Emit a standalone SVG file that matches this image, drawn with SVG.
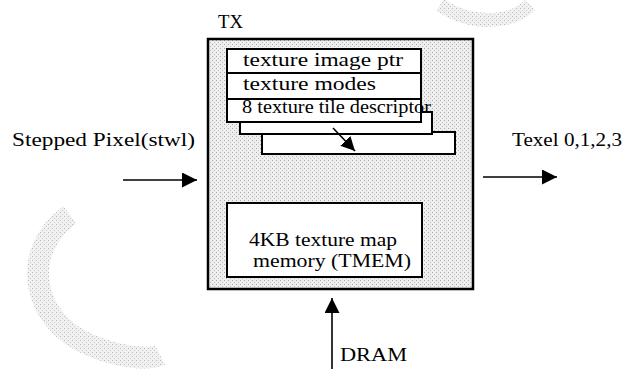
<svg xmlns="http://www.w3.org/2000/svg" width="624" height="369" viewBox="0 0 624 369">
<style>
.t{font-family:"Liberation Serif","DejaVu Serif",serif;font-size:18.5px;fill:#000}
.b{fill:#fff;stroke:#000;stroke-width:2}
.c{stroke:#000;stroke-width:1.6;fill:none}
</style>
<defs>
<pattern id="dots" width="4" height="4" patternUnits="userSpaceOnUse">
<rect width="4" height="4" fill="#eeeeee"/>
<rect x="0" y="0" width="1" height="1" fill="#a8a8a8"/>
<rect x="2" y="2" width="1" height="1" fill="#bcbcbc"/>
</pattern>
<marker id="ah" viewBox="0 0 10 10" refX="10" refY="5" markerWidth="14" markerHeight="14" markerUnits="userSpaceOnUse" orient="auto">
<path d="M0,0L10,5L0,10z" fill="#000"/>
</marker>
<marker id="ahb" viewBox="0 0 10 10" refX="10" refY="5" markerWidth="15" markerHeight="15" markerUnits="userSpaceOnUse" orient="auto">
<path d="M0,0L10,5L0,10z" fill="#000"/>
</marker>
</defs>
<rect width="624" height="369" fill="#fff"/>
<g id="watermark" fill="none" stroke="url(#dots)" opacity="0.8">
<path d="M70,215 C20,250 30,320 90,345 C120,358 150,360 160,355" stroke-width="22"/>
<path d="M440,5 C470,25 510,25 530,5" stroke-width="14"/>
</g>
<g id="tx">
<rect x="208" y="39" width="265" height="250" fill="url(#dots)" stroke="#000" stroke-width="2.5"/>
<text class="t" x="218" y="28" font-size="20" textLength="25" lengthAdjust="spacingAndGlyphs">TX</text>
</g>
<g id="tile-stack">
<rect class="b" x="262" y="132" width="193" height="22"/>
<rect class="b" x="240" y="112" width="192" height="22"/>
</g>
<g id="registers">
<rect class="b" x="227" y="49" width="194" height="24"/>
<rect class="b" x="227" y="73" width="194" height="26"/>
<rect class="b" x="227" y="99" width="194" height="23"/>
<text class="t" x="243" y="66" textLength="160" lengthAdjust="spacingAndGlyphs">texture image ptr</text>
<text class="t" x="243" y="90" textLength="133" lengthAdjust="spacingAndGlyphs">texture modes</text>
<text class="t" x="242" y="113" textLength="189" lengthAdjust="spacingAndGlyphs">8 texture tile descriptor</text>
</g>
<g id="tmem">
<rect class="b" x="227" y="203" width="195" height="74"/>
<text class="t" x="249" y="246" textLength="148" lengthAdjust="spacingAndGlyphs">4KB texture map</text>
<text class="t" x="253" y="267" textLength="158" lengthAdjust="spacingAndGlyphs">memory (TMEM)</text>
</g>
<g id="labels">
<text class="t" x="12" y="146" textLength="183" lengthAdjust="spacingAndGlyphs">Stepped Pixel(stwl)</text>
<text class="t" x="512" y="146" textLength="110" lengthAdjust="spacingAndGlyphs">Texel 0,1,2,3</text>
<text class="t" x="340" y="361" textLength="67" lengthAdjust="spacingAndGlyphs">DRAM</text>
</g>
<g id="connectors">
<line class="c" x1="123" y1="180" x2="197" y2="180" marker-end="url(#ahb)"/>
<line class="c" x1="483" y1="177" x2="557" y2="177" marker-end="url(#ahb)"/>
<line class="c" x1="332" y1="369" x2="332" y2="298" marker-end="url(#ahb)"/>
<line class="c" x1="333" y1="128" x2="355" y2="151" marker-end="url(#ah)"/>
</g>
</svg>
